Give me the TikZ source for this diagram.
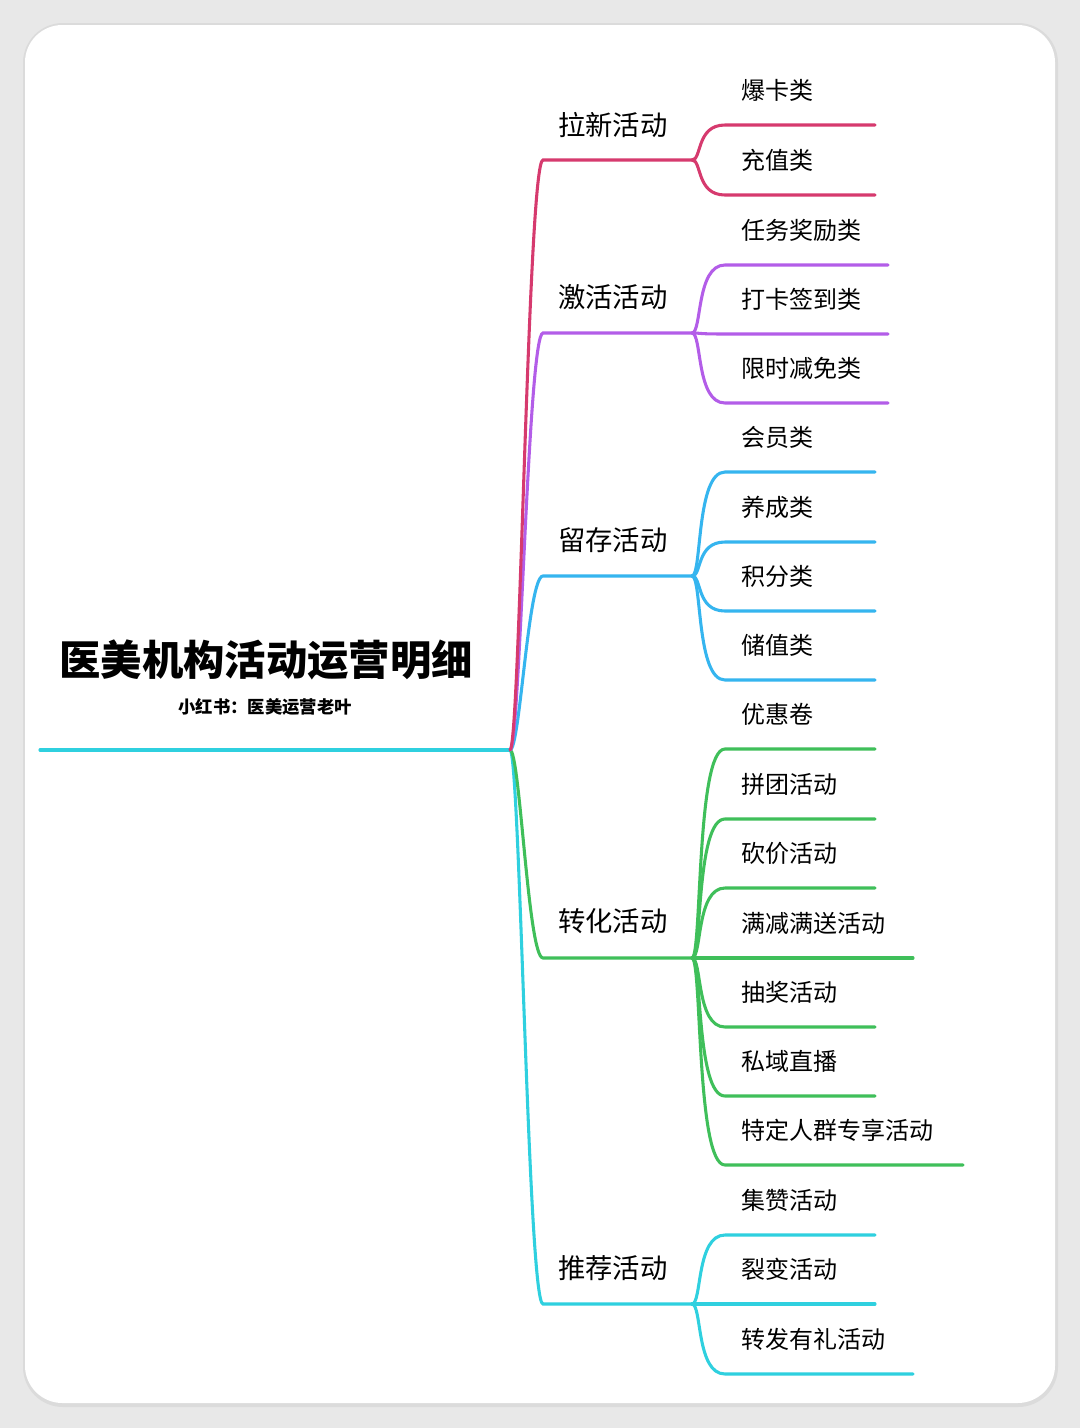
\documentclass[tikz,border=0pt]{standalone}
\usepackage{fontspec}
\setmainfont{Noto Sans CJK SC}
\newfontfamily\cjkbold[BoldFont={Noto Sans CJK SC Bold}]{Noto Sans CJK SC}
\definecolor{cA}{HTML}{D63A6E}
\definecolor{cB}{HTML}{B35DE8}
\definecolor{cC}{HTML}{35B5EF}
\definecolor{cD}{HTML}{3FBF5A}
\definecolor{cE}{HTML}{2FD0DF}
\tikzset{ln/.style={line width=2.3pt,line cap=round},
  leaf/.style={anchor=west,inner sep=0pt,font=\fontsize{18}{20}\selectfont},
  br/.style={anchor=west,inner sep=0pt,font=\fontsize{20.5}{22}\selectfont}}
\newcommand{\mmleaf}[5]{% color, parent y, label y, end x, text
  \coordinate (s#3) at (725,#3+35);
  \coordinate (e#3) at (#4,#3+35);
  \draw[ln,#1] (692,#2) .. controls (702,#2) and (696,#3+35) .. (s#3) -- (e#3);
  \node[leaf] (t#3) at (741,#3) {#5};}
\newcommand{\mmbranch}[4]{% color, line y, label y, text
  \coordinate (b#2) at (543,#2);
  \coordinate (j#2) at (692,#2);
  \draw[ln,#1] (root) .. controls (520,750) and (528,#2) .. (b#2) -- (j#2);
  \node[br] (l#2) at (558,#3) {#4};}
\begin{document}
\begin{tikzpicture}[x=0.75pt,y=-0.75pt]
\useasboundingbox (0,0) rectangle (1080,1428);
\fill[black!9] (0,0) rectangle (1080,1428);
\fill[black!14,rounded corners=30pt] (23,23) rectangle (1058,1407);
\fill[white,rounded corners=28pt] (25,25) rectangle (1055,1403);
\coordinate (root) at (510,750);
\coordinate (rs) at (40,750);
\draw[ln,cE] (rs) -- (root);
\node[inner sep=0pt,font=\fontsize{31}{34}\selectfont\bfseries] (title) at (266,660) {医美机构活动运营明细};
\node[inner sep=0pt,font=\fontsize{13}{15}\selectfont\bfseries] (sub) at (265,707) {小红书：医美运营老叶};
% order: draw lower first so upper overlaps
\mmbranch{cE}{1304}{1268}{推荐活动}
\mmbranch{cD}{958}{921}{转化活动}
\mmbranch{cC}{576}{540}{留存活动}
\mmbranch{cB}{333}{297}{激活活动}
\mmbranch{cA}{160}{125}{拉新活动}
\mmleaf{cA}{160}{90}{875}{爆卡类}
\mmleaf{cA}{160}{160}{875}{充值类}
\mmleaf{cB}{333}{230}{888}{任务奖励类}
\mmleaf{cB}{333}{299}{888}{打卡签到类}
\mmleaf{cB}{333}{368}{888}{限时减免类}
\mmleaf{cC}{576}{437}{875}{会员类}
\mmleaf{cC}{576}{507}{875}{养成类}
\mmleaf{cC}{576}{576}{875}{积分类}
\mmleaf{cC}{576}{645}{875}{储值类}
\mmleaf{cD}{958}{714}{875}{优惠卷}
\mmleaf{cD}{958}{784}{875}{拼团活动}
\mmleaf{cD}{958}{853}{875}{砍价活动}
\mmleaf{cD}{958}{923}{913}{满减满送活动}
\mmleaf{cD}{958}{992}{875}{抽奖活动}
\mmleaf{cD}{958}{1061}{875}{私域直播}
\mmleaf{cD}{958}{1130}{963}{特定人群专享活动}
\mmleaf{cE}{1304}{1200}{875}{集赞活动}
\mmleaf{cE}{1304}{1269}{875}{裂变活动}
\mmleaf{cE}{1304}{1339}{913}{转发有礼活动}
\end{tikzpicture}
\end{document}
